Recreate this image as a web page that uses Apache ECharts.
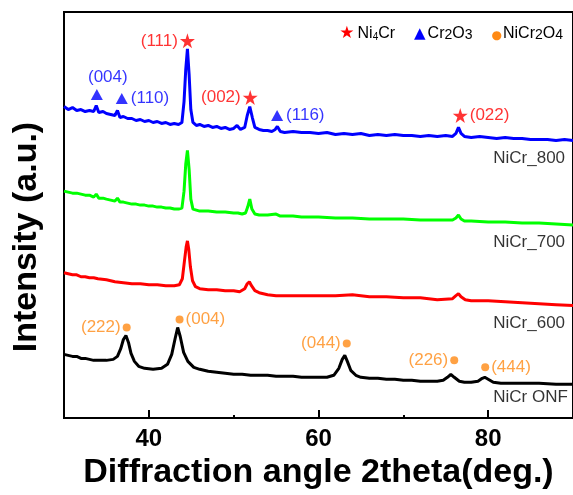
<!DOCTYPE html>
<html>
<head>
<meta charset="utf-8">
<script src="https://cdn.jsdelivr.net/npm/echarts@6/dist/echarts.min.js"></script>
<style>
html,body{margin:0;padding:0;background:#fff;}
#chart{width:573px;height:495px;}
</style>
</head>
<body>
<div id="chart"></div>
<script>
// ---------- DATA ----------
const xTickLabels = [40, 60, 80];
const xMinorTicks = [50, 70];

const nicrONF = [[30,64],[30.5,63],[31,62],[31.5,62],[32,60],[32.5,60],[33,59],[33.5,58],[34,58],[35,58],[35.8,59],[36.3,62],[36.7,70],[37.0,79],[37.3,83],[37.6,76],[37.9,65],[38.3,57],[38.8,52],[39.5,50],[40.5,49],[41.5,50],[42.2,54],[42.7,64],[43.1,80],[43.4,91],[43.7,82],[44.1,66],[44.6,57],[45.3,51],[46,49],[47,47],[48,46],[49,45],[50,44],[51,44],[52,43],[53,43],[54,43],[55,42],[56,42],[57,42],[58,41],[59,41],[60,41],[61,41],[61.8,43],[62.4,50],[62.8,59],[63.1,63],[63.4,57],[63.8,48],[64.4,43],[65,41],[66,40],[67,40],[68,39],[69,39],[70,38],[71,38],[72,37],[73,37],[74,37],[74.7,38],[75.2,41],[75.6,44],[76.0,41],[76.6,37],[77.2,36],[78,36],[78.8,37],[79.3,40],[79.6,41],[80.0,39],[80.6,36],[81.5,35],[83,35],[84,35],[86,35],[88,34],[90,34]];

const nicr600 = [[30,146],[30.5,145],[31,144],[31.5,144],[32,142],[32.5,142],[33,141],[33.5,141],[34,140],[35,139],[36,137],[37,136],[38,135],[39,135],[40,134],[41,134],[42,133],[43,133],[43.6,134],[43.95,140],[44.2,158],[44.4,172],[44.55,178],[44.7,170],[44.9,152],[45.15,138],[45.5,132],[46,130],[47,129],[48,129],[49,128],[50,128],[50.7,127],[51.3,130],[51.6,135],[51.85,137],[52.1,133],[52.5,128],[53,126],[54,124],[55,123],[56,123],[58,123],[60,123],[62,123],[64,124],[66,122],[68,122],[70,121],[72,121],[74,119],[75.8,120],[76.2,123],[76.5,125],[76.8,122],[77.3,119],[78,118],[80,118],[82,117],[84,116],[86,115],[88,114],[90,113]];

const nicr700 = [[30,228],[30.5,227],[31,226],[31.5,226],[32,225],[32.5,224],[33,224],[33.5,222],[33.8,225],[34.1,221],[34.6,221],[35,220],[35.5,219],[36,218],[36.3,221],[36.6,217],[37,217],[37.5,216],[38,215],[38.5,215],[39,214],[39.5,214],[40,213],[40.5,213],[41,212],[41.5,212],[42,211],[42.5,211],[43,210],[43.5,210],[43.9,211],[44.15,228],[44.35,255],[44.55,269],[44.75,250],[44.95,220],[45.2,210],[45.6,209],[46,208],[47,208],[48,207],[49,207],[50,206],[50.5,206],[51,205],[51.4,206],[51.65,212],[51.9,220],[52.15,210],[52.5,205],[53,204],[54,204],[55,205],[55.5,203],[56,203],[57,203],[58,202],[60,202],[62,201],[64,201],[66,200],[68,200],[70,200],[72,199],[74,199],[75.8,199],[76.2,201],[76.5,204],[76.8,200],[77.2,198],[78,198],[80,197],[82,197],[84,196],[86,196],[88,195],[90,194]];

const nicr800 = [[30,313],[30.5,310],[31,312],[31.5,309],[32,310],[32.5,308],[33,309],[33.5,308],[33.8,314],[34.1,307],[34.6,308],[35,306],[35.5,305],[36,304],[36.3,309],[36.6,302],[37,303],[37.5,301],[38,301],[38.5,299],[39,300],[39.5,298],[40,299],[40.5,297],[41,298],[41.5,296],[42,297],[42.5,295],[43,296],[43.5,295],[43.9,297],[44.15,318],[44.35,350],[44.55,371],[44.75,345],[44.95,310],[45.2,297],[45.6,294],[46,295],[46.5,293],[47,294],[47.5,292],[48,293],[48.5,291],[49,292],[49.5,290],[50,291],[50.4,294],[50.8,290],[51.3,292],[51.6,304],[51.9,313],[52.2,302],[52.5,292],[53,290],[53.5,289],[54,289],[54.5,288],[54.9,290],[55.15,293],[55.5,288],[56,287],[57,288],[58,287],[59,287],[60,286],[61,287],[62,285],[63,286],[64,285],[65,286],[66,284],[67,285],[68,284],[69,285],[70,284],[71,284],[72,283],[73,284],[74,283],[75,284],[75.8,283],[76.2,286],[76.5,292],[76.8,286],[77.2,283],[78,282],[79,283],[80,282],[81,281],[82,282],[83,281],[84,281],[85,280],[86,280],[87,280],[88,279],[89,280],[90,279]];

// peak markers (2theta, intensity, hkl)
const ni4crX = [44.55, 51.95, 76.71];
const ni4crY = [379, 322, 304];
const ni4crHkl = ['(111)', '(002)', '(022)'];

const cr2o3X = [33.87, 36.81, 55.12];
const cr2o3Y = [325, 321, 304];
const cr2o3Hkl = ['(004)', '(110)', '(116)'];

const nicr2o4X = [37.39, 43.62, 63.33, 76.0, 79.65];
const nicr2o4Y = [91, 99, 75, 58, 51];
const nicr2o4Hkl = ['(222)', '(004)', '(044)', '(226)', '(444)'];

const sampleNames = ['NiCr_800', 'NiCr_700', 'NiCr_600', 'NiCr ONF'];
const sampleLabelX = [80.6, 80.6, 80.6, 80.6];
const sampleLabelY = [261, 177, 95, 21];

// ---------- STYLE ----------
const FONT = '"Liberation Sans", Arial, Helvetica, sans-serif';
const RED = '#ff0000', BLUE = '#0000ff', GREEN = '#00ff00', ORANGE = '#ff8a14';
const STAR = 'path://M50,0 L61.2,34.5 L97.6,34.5 L68.2,55.9 L79.4,90.5 L50,69.1 L20.6,90.5 L31.8,55.9 L2.4,34.5 L38.8,34.5 Z';

const ni4crSide = ['left', 'left', 'right'];
const cr2o3Side = ['top', 'right', 'right'];
const nicr2o4Side = ['left', 'right', 'left', 'left', 'right'];

function markerData(xs, ys, hkls, sides) {
  return xs.map((x, i) => {
    const side = sides[i];
    const label = { position: side, formatter: hkls[i] };
    if (side === 'top') { label.offset = [11, 0]; label.distance = 3; }
    return { value: [x, ys[i]], label };
  });
}

const lineSeries = (name, data, color) => ({
  name, type: 'line', data, showSymbol: false, symbol: 'none',
  lineStyle: { color, width: 3 }, itemStyle: { color },
  animation: false, z: 2
});

const option = {
  animation: false,
  backgroundColor: '#ffffff',
  grid: { left: 64, top: 12, right: -2, bottom: 74, show: true, borderColor: '#000', borderWidth: 2, backgroundColor: 'transparent' },
  legend: {
    show: true,
    data: ['Ni4Cr', 'Cr2O3', 'NiCr2O4'],
    right: 5, top: 20,
    icon: 'none', itemWidth: 0, itemHeight: 14, itemGap: 14,
    selectedMode: false,
    formatter: function (name) {
      if (name === 'Ni4Cr') return '{star|★}{t|Ni}{s4|4}{t|Cr}';
      if (name === 'Cr2O3') return '{tri|▲}{t|Cr}{sub|2}{t|O}{sub|3}';
      return '{dot|●}{t|NiCr}{sub|2}{t|O}{sub|4}';
    },
    textStyle: {
      fontFamily: FONT, fontSize: 16, color: '#000',
      rich: {
        t: { fontFamily: FONT, fontSize: 16, color: '#000', lineHeight: 20, verticalAlign: 'bottom' },
        s4: { fontFamily: FONT, fontSize: 10, color: '#000', lineHeight: 16, verticalAlign: 'bottom' },
        sub: { fontFamily: FONT, fontSize: 14, color: '#000', lineHeight: 11, verticalAlign: 'bottom' },
        star: { fontFamily: '"DejaVu Sans"', fontSize: 17, color: RED, lineHeight: 20, verticalAlign: 'bottom', padding: [0, 3, 0, 0] },
        tri: { fontFamily: '"DejaVu Sans"', fontSize: 15, color: BLUE, lineHeight: 20, verticalAlign: 'bottom', padding: [0, 2, 0, 0] },
        dot: { fontFamily: '"DejaVu Sans"', fontSize: 12, color: ORANGE, lineHeight: 19, verticalAlign: 'bottom', padding: [0, 1, 0, 0] }
      }
    }
  },
  xAxis: [{
    type: 'value', min: 30, max: 90,
    name: 'Diffraction angle 2theta(deg.)', nameLocation: 'middle', nameGap: 32,
    nameTextStyle: { fontFamily: FONT, fontSize: 34, fontWeight: 'bold', color: '#000' },
    axisLine: { show: true, onZero: false, lineStyle: { color: '#000', width: 2 } },
    axisTick: { show: true, inside: true, length: 8, customValues: xTickLabels, lineStyle: { color: '#000', width: 2 } },
    axisLabel: { show: true, margin: 9, customValues: xTickLabels, fontFamily: FONT, fontSize: 24, fontWeight: 'bold', color: '#000' },
    splitLine: { show: false }
  }, {
    type: 'value', min: 30, max: 90, position: 'bottom', offset: 0,
    axisLine: { show: false },
    axisTick: { show: true, inside: true, length: 3, customValues: xMinorTicks, lineStyle: { color: '#000', width: 2 } },
    axisLabel: { show: false },
    splitLine: { show: false }
  }],
  yAxis: {
    type: 'value', min: 0, max: 408,
    name: 'Intensity (a.u.)', nameLocation: 'middle', nameGap: 20, nameRotate: 90,
    nameTextStyle: { fontFamily: FONT, fontSize: 34, fontWeight: 'bold', color: '#000', padding: [0, 44, 0, 0] },
    axisLine: { show: true, onZero: false, lineStyle: { color: '#000', width: 2 } },
    axisTick: { show: false }, axisLabel: { show: false }, splitLine: { show: false }
  },
  series: [
    lineSeries('NiCr ONF', nicrONF, '#000000'),
    lineSeries('NiCr_600', nicr600, RED),
    lineSeries('NiCr_700', nicr700, GREEN),
    lineSeries('NiCr_800', nicr800, BLUE),
    {
      name: 'Ni4Cr', type: 'scatter', symbol: STAR, symbolSize: 15, z: 5,
      itemStyle: { color: RED },
      label: { show: true, color: RED, fontFamily: FONT, fontSize: 17, distance: 2 },
      data: markerData(ni4crX, ni4crY, ni4crHkl, ni4crSide)
    },
    {
      name: 'Cr2O3', type: 'scatter', symbol: 'triangle', symbolSize: [12, 11], z: 5,
      itemStyle: { color: BLUE },
      label: { show: true, color: BLUE, fontFamily: FONT, fontSize: 17, distance: 3 },
      data: markerData(cr2o3X, cr2o3Y, cr2o3Hkl, cr2o3Side)
    },
    {
      name: 'NiCr2O4', type: 'scatter', symbol: 'circle', symbolSize: 8, z: 5,
      itemStyle: { color: ORANGE },
      label: { show: true, color: ORANGE, fontFamily: FONT, fontSize: 17, distance: 2 },
      data: markerData(nicr2o4X, nicr2o4Y, nicr2o4Hkl, nicr2o4Side)
    },
    {
      name: 'samples', type: 'scatter', symbolSize: 0, z: 5,
      label: { show: true, position: 'right', distance: 0, color: '#000', fontFamily: FONT, fontSize: 17,
        formatter: p => p.data.name },
      data: sampleNames.map((n, i) => ({ name: n, value: [sampleLabelX[i], sampleLabelY[i]] }))
    }
  ]
};

const chart = echarts.init(document.getElementById('chart'), null, { renderer: 'canvas' });
chart.setOption(option);
</script>
</body>
</html>
